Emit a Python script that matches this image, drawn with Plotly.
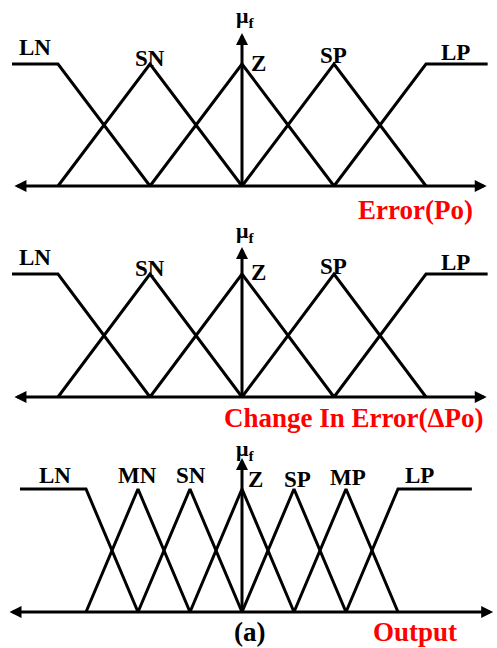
import plotly.graph_objects as go

# ---- fuzzy sets (linguistic terms and peak positions on a normalised universe) ----
error_terms = ["LN", "SN", "Z", "SP", "LP"]
error_peaks = [-2, -1, 0, 1, 2]
error_universe = [-2.5, 2.67]          # shoulder sets stay at 1 out to these limits

derror_terms = ["LN", "SN", "Z", "SP", "LP"]
derror_peaks = [-2, -1, 0, 1, 2]
derror_universe = [-2.5, 2.67]

output_terms = ["LN", "MN", "SN", "Z", "SP", "MP", "LP"]
output_peaks = [-3, -2, -1, 0, 1, 2, 3]
output_universe = [-4.27, 4.42]

# ---- page geometry (pixels) ----
W, H = 497, 648
AXIS_X = 242           # pixel column of the membership axis
panels = [
    dict(terms=error_terms, peaks=error_peaks, universe=error_universe,
         scale=92, band=(0, 216), base=186, top=64,
         arrow=(-2.49, 2.66), vtip=33, mu_y=17,
         caption="Error(Po)", cap_px=(415, 210),
         label_px=[(35, 47), (150, 58), (258, 63), (333, 55), (455, 52)]),
    dict(terms=derror_terms, peaks=derror_peaks, universe=derror_universe,
         scale=92, band=(216, 432), base=397, top=274,
         arrow=(-2.49, 2.66), vtip=247, mu_y=232,
         caption="Change In Error(\u0394Po)", cap_px=(353, 418),
         label_px=[(35, 258), (150, 269), (258, 273), (333, 267), (455, 263)]),
    dict(terms=output_terms, peaks=output_peaks, universe=output_universe,
         scale=52, band=(432, 648), base=612, top=489,
         arrow=(-4.5, 4.83), vtip=458, mu_y=450,
         caption="Output", cap_px=(415, 632),
         label_px=[(55, 475), (137, 475), (191, 475), (255, 479), (297, 479),
                   (348, 477), (419, 475)]),
]

FONT = "Liberation Serif"
LW = 3


def membership_paths(peaks, universe):
    """Vertices of shoulder / triangular membership functions."""
    n = len(peaks)
    paths = []
    for i in range(n):
        if i == 0:
            xs, ys = [universe[0], peaks[0], peaks[1]], [1, 1, 0]
        elif i == n - 1:
            xs, ys = [peaks[i - 1], peaks[i], universe[1]], [0, 1, 1]
        else:
            xs, ys = [peaks[i - 1], peaks[i], peaks[i + 1]], [0, 1, 0]
        paths.append((xs, ys))
    return paths


fig = go.Figure()
annotations = []
layout_axes = {}

for k, p in enumerate(panels, start=1):
    xa = "x" if k == 1 else f"x{k}"
    ya = "y" if k == 1 else f"y{k}"
    s = p["scale"]
    unit = p["base"] - p["top"]

    def ux(px, s=s):
        return (px - AXIS_X) / s

    def uy(py, p=p, unit=unit):
        return (p["base"] - py) / unit

    b0, b1 = p["band"]
    layout_axes[f"xaxis{'' if k == 1 else k}"] = dict(
        domain=[0, 1], range=[ux(0), ux(W)], visible=False, fixedrange=True)
    layout_axes[f"yaxis{'' if k == 1 else k}"] = dict(
        domain=[1 - b1 / H, 1 - b0 / H], range=[uy(b1), uy(b0)],
        visible=False, fixedrange=True)

    for xs, ys in membership_paths(p["peaks"], p["universe"]):
        fig.add_trace(go.Scatter(x=xs, y=ys, mode="lines", xaxis=xa, yaxis=ya,
                                 line=dict(color="black", width=LW),
                                 hoverinfo="skip", showlegend=False))

    # double-headed universe axis
    annotations.append(dict(
        x=p["arrow"][1], y=0, ax=p["arrow"][0], ay=0, xref=xa, yref=ya,
        axref=xa, ayref=ya, text="", showarrow=True, arrowside="end+start",
        arrowhead=2, startarrowhead=2, arrowsize=0.8, startarrowsize=0.8,
        arrowwidth=LW, arrowcolor="black", standoff=0, startstandoff=0))
    # membership-degree axis
    annotations.append(dict(
        x=0, y=uy(p["vtip"]), ax=0, ay=0, xref=xa, yref=ya,
        axref=xa, ayref=ya, text="", showarrow=True, arrowside="end",
        arrowhead=2, arrowsize=0.8, arrowwidth=LW, arrowcolor="black",
        standoff=0))
    annotations.append(dict(
        x=ux(245), y=uy(p["mu_y"]), xref=xa, yref=ya,
        text="<b>\u03bc<sub>f</sub></b>", showarrow=False, borderpad=0,
        font=dict(family=FONT, size=22, color="black")))

    for term, (lx, ly) in zip(p["terms"], p["label_px"]):
        annotations.append(dict(
            x=ux(lx), y=uy(ly), xref=xa, yref=ya, text=f"<b>{term}</b>",
            showarrow=False, font=dict(family=FONT, size=23, color="black")))

    cx, cy = p["cap_px"]
    annotations.append(dict(
        x=ux(cx), y=uy(cy), xref=xa, yref=ya, text=f"<b>{p['caption']}</b>",
        showarrow=False, borderpad=0,
        font=dict(family=FONT, size=27, color="red")))

    if k == 3:
        annotations.append(dict(
            x=ux(249), y=uy(632), xref=xa, yref=ya, text="<b>(a)</b>",
            showarrow=False, font=dict(family=FONT, size=27, color="black")))

fig.update_layout(
    width=W, height=H, autosize=False,
    margin=dict(l=0, r=0, t=0, b=0, pad=0),
    paper_bgcolor="white", plot_bgcolor="white",
    annotations=annotations, showlegend=False,
    **layout_axes)

fig.write_html("out.html", config={"displayModeBar": False})
